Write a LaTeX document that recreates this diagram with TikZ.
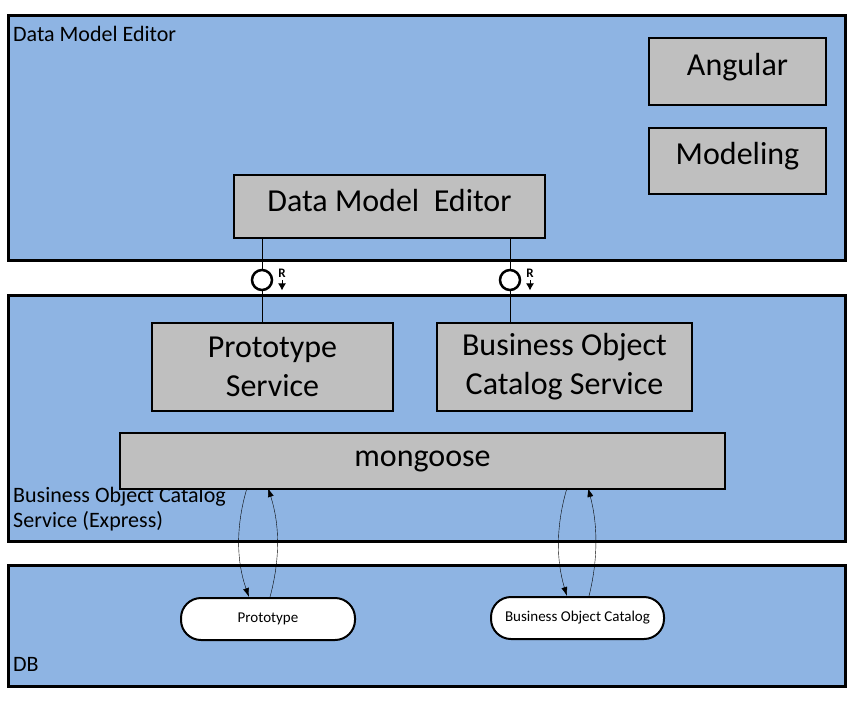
\documentclass[tikz,border=0pt]{standalone}
\usepackage{fontspec}
\setmainfont{Carlito}
\usetikzlibrary{arrows.meta,positioning}
\definecolor{panelblue}{HTML}{8EB4E3}
\definecolor{boxgray}{HTML}{BFBFBF}

\begin{document}
\begin{tikzpicture}[x=1pt,y=-1pt,
                    panel/.style={draw,line width=3pt,fill=panelblue},
                    comp/.style={draw,line width=2pt,fill=boxgray,font=\fontsize{32}{39}\selectfont,align=center,inner sep=0pt},
                    store/.style={draw,line width=2pt,fill=white,rounded corners=20pt,font=\fontsize{15}{18}\selectfont,inner sep=0pt},
                    lbl/.style={font=\fontsize{22}{25}\selectfont,align=left,anchor=north west,inner sep=0pt},
                    flow/.style={-{Latex[length=9pt,width=6pt]},thin}]
    \useasboundingbox (0,0) rectangle (858,705);

    % panels
    \draw[panel] (8,15) rectangle (845,260);
    \draw[panel] (8,295) rectangle (845,541);
    \draw[panel] (8,565) rectangle (845,686);
    \node[lbl] (editorlbl) at (13,26) {Data Model Editor};
    \node[lbl] (servicelbl) at (13,487) {Business Object Catalog\\Service (Express)};
    \node[lbl] (dblbl) at (13,657) {DB};

    % components
    \node[comp,text depth=15pt,minimum width=177pt,minimum height=67pt] (angular) at (737.5,71.5) {Angular};
    \node[comp,text depth=15pt,minimum width=177pt,minimum height=66pt] (modeling) at (737.5,161) {Modeling};
    \node[comp,text depth=12pt,minimum width=311pt,minimum height=63pt] (editor) at (389.5,206.5) {Data Model\ \ Editor};
    \node[comp,minimum width=241pt,minimum height=88pt] (proto) at (272.5,367) {Prototype\\Service};
    \node[comp,minimum width=255pt,minimum height=88pt] (boc) at (564.5,367) {Business Object\\Catalog Service};
    \node[comp,minimum width=605pt,minimum height=56pt] (mongoose) at (422.5,461) {mongoose};

    % stores
    \node[store,minimum width=174pt,minimum height=42pt] (protodb) at (268,619) {Prototype};
    \node[store,minimum width=173pt,minimum height=42pt] (bocdb) at (577.5,618) {Business Object Catalog};

    % interfaces
    \node[draw,circle,line width=2.5pt,fill=white,minimum size=20pt,inner sep=0pt] (port1) at (262,280) {};
    \node[draw,circle,line width=2.5pt,fill=white,minimum size=20pt,inner sep=0pt] (port2) at (510,280) {};
    \draw (editor.south -| port1) -- (port1) -- (proto.north -| port1);
    \draw (editor.south -| port2) -- (port2) -- (boc.north -| port2);
    \foreach \p in {port1,port2} {
        \node[font=\bfseries\fontsize{13}{14}\selectfont,inner sep=0pt] (\p r) at ([xshift=20pt,yshift=7pt]\p) {R};
        \draw[-{Latex[length=7pt,width=8pt]},line width=1pt] ([yshift=-3pt]\p r.south) -- ++(0,10);
    }

    % db access
    \draw[flow] (247,488) .. controls (236,525) and (236,560) .. (protodb.north -| 249,0);
    \draw[flow] (protodb.north -| 270,0) .. controls (280,560) and (280,525) .. (268,488);
    \draw[flow] (567,488) .. controls (556,525) and (556,560) .. (bocdb.north -| 567,0);
    \draw[flow] (bocdb.north -| 589,0) .. controls (598,560) and (598,525) .. (588,488);
\end{tikzpicture}
\end{document}
